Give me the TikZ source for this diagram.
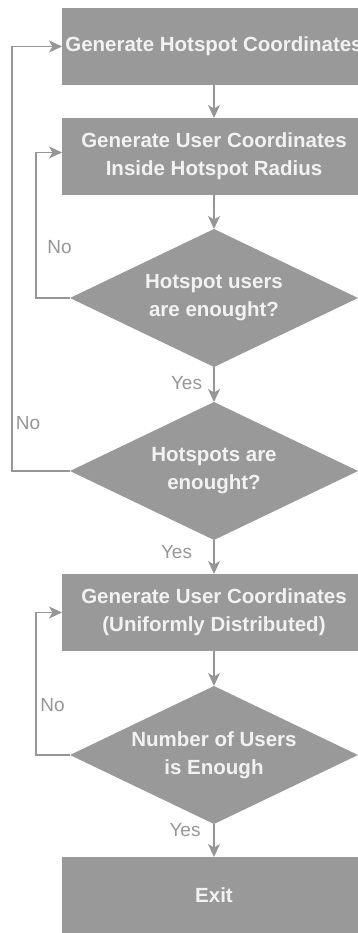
\documentclass[tikz,border=0pt]{standalone}
\usepackage{fontspec}
\setmainfont{Liberation Sans}
\usepackage{xcolor}
\usepackage{tikz}
\usetikzlibrary{shapes.geometric, arrows.meta, positioning}
\definecolor{boxgray}{RGB}{153,153,153}
\definecolor{linegray}{RGB}{150,150,150}
\definecolor{boxtext}{RGB}{242,242,242}
\newcommand{\flowfont}{\fontsize{20.5}{28}\selectfont\bfseries}
\newcommand{\tagfont}{\fontsize{19}{22}\selectfont}
\tikzset{
    process/.style={rectangle, minimum width=304pt, minimum height=77pt, text centered, align=center, fill=boxgray, text=boxtext, font=\flowfont, inner sep=0pt, outer sep=0pt},
    decision/.style={diamond, aspect=2.09, minimum width=288pt, minimum height=138pt, text centered, align=center, fill=boxgray, text=boxtext, font=\flowfont, inner sep=0pt, outer sep=0pt},
    arrow/.style={line width=1.5pt, draw=linegray, -{Stealth[length=13pt,width=12pt,inset=3.5pt]}},
    lbl/.style={text=linegray, font=\tagfont, inner sep=0pt}
}

\begin{document}
\begin{tikzpicture}
    \useasboundingbox (0,0) rectangle (357pt,-933pt);

    \node (genhot) [process] at (214pt,-46.5pt) {Generate Hotspot Coordinates};
    \node (genusr) [process, below=33pt of genhot] {Generate User Coordinates\\Inside Hotspot Radius};
    \node (usrok) [decision, below=34pt of genusr] {Hotspot users\\are enought?};
    \node (hotok) [decision, below=35pt of usrok] {Hotspots are\\enought?};
    \node (genuni) [process, below=34pt of hotok] {Generate User Coordinates\\(Uniformly Distributed)};
    \node (numok) [decision, below=35pt of genuni] {Number of Users\\is Enough};
    \node (exit) [process, below=33pt of numok] {Exit};

    % straight flow
    \draw [arrow] (genhot) -- (genusr);
    \draw [arrow] (genusr) -- (usrok);
    \draw [arrow] (usrok) -- (hotok);
    \draw [arrow] (hotok) -- (genuni);
    \draw [arrow] (genuni) -- (numok);
    \draw [arrow] (numok) -- (exit);

    % loops back
    \draw [arrow] (usrok.west) -- ++(-34pt,0) |- ([yshift=4pt]genusr.west);
    \draw [arrow] (hotok.west) -- ++(-58pt,0) |- (genhot.west);
    \draw [arrow] (numok.west) -- ++(-34pt,0) |- (genuni.west);

    \node (no1) [lbl] at ([xshift=-10.5pt,yshift=51pt]usrok.west) {No};
    \node (no2) [lbl] at ([xshift=-42pt,yshift=48pt]hotok.west) {No};
    \node (no3) [lbl] at ([xshift=-17.5pt,yshift=50pt]numok.west) {No};
    \node (yes1) [lbl] at ([xshift=-27.5pt,yshift=-16pt]usrok.south) {Yes};
    \node (yes2) [lbl] at ([xshift=-37.5pt,yshift=-12pt]hotok.south) {Yes};
    \node (yes3) [lbl] at ([xshift=-29pt,yshift=-6pt]numok.south) {Yes};
\end{tikzpicture}
\end{document}
